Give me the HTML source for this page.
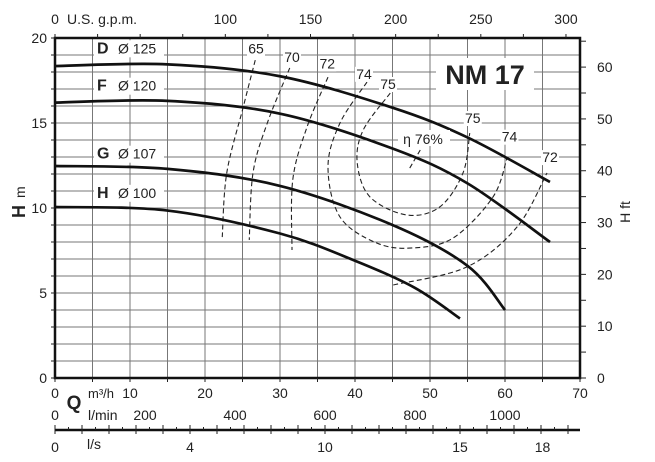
<!DOCTYPE html>
<html><head><meta charset="utf-8"><style>
html,body{margin:0;padding:0;background:#fff}
svg{display:block;font-family:"Liberation Sans",sans-serif}
</style></head><body>
<svg id="c" width="655" height="462" viewBox="0 0 655 462"></svg>
<script>
// ---- data ----
const curveNames = ["D","F","G","H"];
const curveDiam = ["125","120","107","100"];
const curveD = [[0,18.35],[15,18.45],[30,17.75],[45,15.9],[55,14.15],[66,11.53]];
const curveF = [[0,16.2],[15,16.3],[30,15.55],[45,13.5],[55,11.45],[66,8]];
const curveG = [[0,12.47],[15,12.3],[30,11.3],[45,9.0],[55,6.6],[60,4.0]];
const curveH = [[0,10.06],[15,9.85],[30,8.5],[40,6.9],[48,5.3],[54,3.5]];
const labelPosH = [19.1,16.9,12.9,10.6];
const eff65 = [[26.7,18.7],[25.1,15.94],[22.9,12.06],[22.3,8.29]];
const eff70 = [[31.3,18.24],[28.3,14.99],[26.4,12.06],[25.9,8.12]];
const eff72a = [[36.4,17.7],[33.6,14.76],[31.7,11.65],[31.6,7.53]];
const eff72b = [[45.1,5.47],[54.9,6.53],[61.6,8.88],[65.6,12.06]];
const eff74 = [[41.6,17.41],[38,15],[36.4,12.41],[38,9.47],[42.9,7.94],[47.7,7.65],[53.1,8.24],[58.4,10.65],[60.3,13]];
const eff75 = [[44.7,16.76],[41.1,14.59],[40.3,12.65],[42,10.65],[46.9,9.59],[51.3,10.06],[54.4,12.06],[55.3,14.41]];
const eff76 = [[47.3,12.35],[48.7,13.41]];
const effLabels = ["65","70","72","74","75","75","74","72"];
const effLabelPos = [[26.8,19.1],[31.6,18.6],[36.3,18.2],[41.2,17.6],[44.4,17.0],[55.7,15.0],[60.6,13.9],[66,12.7]];
const qTicks = [0,10,20,30,40,50,60,70];
const hTicks = [0,5,10,15,20];
const ftTicks = [0,10,20,30,40,50,60];
const gpmTicks = [0,100,150,200,250,300];
const lminTicks = [0,200,400,600,800,1000];
const lsLabels = ["0","4","10","15","18"];
const lsLabelQ = [0,18,36,54,65];

// ---- axes ----
const X0=55,X1=580,Y0=378,Y1=38;
const xq=q=>X0+(X1-X0)*q/70;
const yh=h=>Y0-(Y0-Y1)*h/20;
const yft=f=>yh(f*0.3048);
const NS="http://www.w3.org/2000/svg";
const svg=document.getElementById("c");
function mk(t,a,p){const e=document.createElementNS(NS,t);for(const k in a)e.setAttribute(k,a[k]);(p||svg).appendChild(e);return e;}
function txt(x,y,s,o){o=o||{};const e=mk("text",{x:x,y:y,"font-size":o.size||14,"text-anchor":o.anchor||"middle","font-weight":o.bold?"bold":"normal",fill:"#222"});e.textContent=s;if(o.rot)e.setAttribute("transform",`rotate(-90 ${x} ${y})`);return e;}
function smooth(pts){const P=pts.map(p=>[xq(p[0]),yh(p[1])]);let d=`M${P[0][0]},${P[0][1]}`;for(let i=0;i<P.length-1;i++){const p0=P[i-1]||P[i],p1=P[i],p2=P[i+1],p3=P[i+2]||P[i+1];d+=` C${p1[0]+(p2[0]-p0[0])/6},${p1[1]+(p2[1]-p0[1])/6} ${p2[0]-(p3[0]-p1[0])/6},${p2[1]-(p3[1]-p1[1])/6} ${p2[0]},${p2[1]}`;}return d;}

// grid
const g=mk("g",{stroke:"#777","stroke-width":1});


for(let q=5;q<70;q+=5)mk("line",{x1:xq(q),x2:xq(q),y1:Y1,y2:Y0},g);
for(let h=1;h<20;h++)mk("line",{x1:X0,x2:X1,y1:yh(h),y2:yh(h)},g);
const fr=mk("rect",{x:X0,y:Y1,width:X1-X0,height:Y0-Y1,fill:"none",stroke:"#111","stroke-width":2.5});


for(let h=0;h<=20;h++)mk("line",{x1:X0-4,x2:X0,y1:yh(h),y2:yh(h),stroke:"#222"});
hTicks.forEach(h=>{const t=txt(47,yh(h)+5,h,{anchor:"end"});});
for(let f=0;f<=65;f+=5)mk("line",{x1:X1,x2:X1+6,y1:yft(f),y2:yft(f),stroke:"#222"});
ftTicks.forEach(f=>{const t=txt(597,yft(f)+5,f,{anchor:"start"});});
for(let v=0;v<=300;v+=25)mk("line",{x1:xq(v*0.2271),x2:xq(v*0.2271),y1:Y1-4,y2:Y1,stroke:"#222"});
gpmTicks.forEach(v=>{const t=txt(xq(v*0.2271),24,v);});
txt(67,24,"U.S. g.p.m.",{anchor:"start"});
for(let q=0;q<=70;q+=5)mk("line",{x1:xq(q),x2:xq(q),y1:Y0,y2:Y0+4,stroke:"#222"});
qTicks.forEach(q=>{const t=txt(xq(q),398,q);});
txt(88,398,"m³/h",{anchor:"start",size:13});
txt(74,409,"Q",{bold:true,size:19});
lminTicks.forEach(v=>{const t=txt(xq(v*0.06),420,v);});
txt(88,420,"l/min",{anchor:"start"});
mk("line",{x1:X0,x2:X1,y1:430,y2:430,stroke:"#111","stroke-width":2.5});
for(let l=0;l<=19.4;l+=0.5)mk("line",{x1:xq(l*3.6),x2:xq(l*3.6),y1:430-(l%1?3:5),y2:430,stroke:"#222"});
for(let l=0;l<=19;l++)mk("line",{x1:xq(l*3.6),x2:xq(l*3.6),y1:430,y2:434,stroke:"#222"});
lsLabels.forEach((s,i)=>{const x=i==1?190:xq(lsLabelQ[i]);const t=txt(x,452,s);});
txt(87,449,"l/s",{anchor:"start"});
const ht=mk("text",{x:25,y:218,"font-size":18,"font-weight":"bold",transform:"rotate(-90 25 218)",fill:"#222"});ht.textContent="H";
const hm=mk("text",{x:25,y:198,"font-size":14,transform:"rotate(-90 25 198)",fill:"#222"});hm.textContent="m";
txt(630,212,"H ft",{rot:true,size:14});

[eff65,eff70,eff72a,eff72b,eff74,eff75,eff76].forEach((c,i)=>{
 const p=mk("path",{d:smooth(c),fill:"none",stroke:"#222","stroke-width":1.1,"stroke-dasharray":"5,3"});
 
 
});
[curveD,curveF,curveG,curveH].forEach((c,i)=>{
 const p=mk("path",{d:smooth(c),fill:"none",stroke:"#111","stroke-width":2.7});
 
 
 mk("rect",{x:94,y:yh(labelPosH[i])-13,width:70,height:17,fill:"#fff"});
 const t=txt(97,yh(labelPosH[i]),curveNames[i],{anchor:"start",bold:true,size:16});
 
 
 txt(118,yh(labelPosH[i]),"Ø "+curveDiam[i],{anchor:"start",size:14});
});
effLabels.forEach((s,i)=>{
 const x=xq(effLabelPos[i][0]),y=yh(effLabelPos[i][1]);
 mk("rect",{x:x-9,y:y-12,width:18,height:15,fill:"#fff"});
 const t=txt(x,y,s);
 
 
});
mk("rect",{x:398,y:130,width:52,height:16,fill:"#fff"});
txt(423,144,"η 76%");
mk("rect",{x:436,y:58,width:98,height:32,fill:"#fff"});
const nm=txt(485,84,"NM 17",{bold:true,size:27});


</script>
</body></html>
